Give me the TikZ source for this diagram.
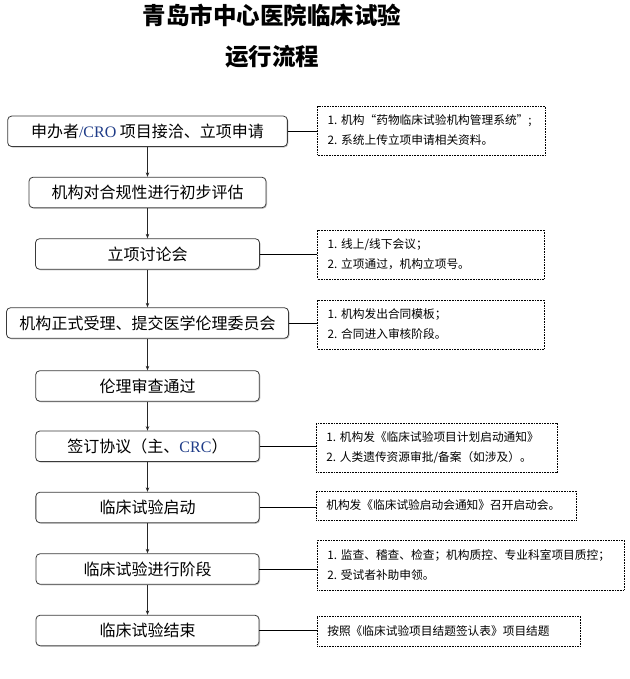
\documentclass[tikz,border=0pt]{standalone}
\usepackage{fontspec}
\setmainfont{Noto Sans CJK SC}
\newfontfamily\latinserif{Liberation Serif}
\usetikzlibrary{shadows,arrows.meta}
\definecolor{navy}{HTML}{1F3C88}
\definecolor{boxline}{HTML}{3A3A3A}
\begin{document}
\begin{tikzpicture}[x=1pt,y=-1pt,
  stepbox/.style={draw=boxline, line width=0.8pt, rounded corners=4pt, fill=white,
    drop shadow={shadow xshift=1pt, shadow yshift=-1pt, opacity=0.45, fill=gray},
    font=\fontsize{16}{18}\selectfont, inner sep=0pt, minimum height=30.5pt},
  notebox/.style={draw=black, line width=0.6pt, dash pattern=on 0.8pt off 0.8pt,
    align=left, anchor=west, inner xsep=10pt, inner ysep=0pt,
    font=\fontsize{11.7}{20}\selectfont},
  titletext/.style={font=\fontsize{23.5}{26}\selectfont\bfseries, inner sep=0pt},
  flowarrow/.style={draw=black!85, line width=0.7pt, -{Stealth[length=4.5pt,width=3.5pt]}},
  link/.style={draw=black, line width=0.8pt}
]
\useasboundingbox (0,0) rectangle (629,679);

% title
\node[titletext] (T1) at (272,15) {青岛市中心医院临床试验};
\node[titletext] (T2) at (272,57) {运行流程};

% main flow
\node[stepbox, minimum width=279.7pt] (L1) at (147.5,131.3) {申办者{\latinserif\color{navy}/CRO} 项目接洽、立项申请};
\node[stepbox, minimum width=237pt]   (L2) at (147.5,192.5) {机构对合规性进行初步评估};
\node[stepbox, minimum width=224pt]   (L3) at (147.5,254)   {立项讨论会};
\node[stepbox, minimum width=282pt]   (L4) at (147.5,323)   {机构正式受理、提交医学伦理委员会};
\node[stepbox, minimum width=223.6pt] (L5) at (147.5,386)   {伦理审查通过};
\node[stepbox, minimum width=223.6pt] (L6) at (147.5,446.3) {签订协议（主、{\latinserif\color{navy}CRC}）};
\node[stepbox, minimum width=223.3pt] (L7) at (147.5,507.5) {临床试验启动};
\node[stepbox, minimum width=223pt]   (L8) at (147.5,569)   {临床试验进行阶段};
\node[stepbox, minimum width=223pt]   (L9) at (147.5,630.5) {临床试验结束};

\foreach \a/\b in {L1/L2,L2/L3,L3/L4,L4/L5,L5/L6,L6/L7,L7/L8,L8/L9}
  \draw[flowarrow] (\a.south) -- (\b.north);

% notes
\node[notebox, text width=207.7pt, minimum height=49pt] (R1) at (317.3,130.5)
  {1.~机构“药物临床试验机构管理系统”;\\2.~系统上传立项申请相关资料。};
\node[notebox, text width=207pt, minimum height=49pt] (R2) at (317.3,254.5)
  {1.~线上/线下会议；\\2.~立项通过，机构立项号。};
\node[notebox, text width=207pt, minimum height=49pt] (R3) at (317.3,324.5)
  {1.~机构发出合同模板；\\2.~合同进入审核阶段。};
\node[notebox, text width=220.7pt, minimum height=49pt] (R4) at (316,447.8)
  {1.~机构发《临床试验项目计划启动通知》\\2.~人类遗传资源审批/备案（如涉及）。};
\node[notebox, text width=240pt, minimum height=29pt] (R5) at (316,505.5)
  {机构发《临床试验启动会通知》召开启动会。};
\node[notebox, text width=287pt, minimum height=50pt] (R6) at (317,565)
  {1.~监查、稽查、检查；机构质控、专业科室项目质控；\\2.~受试者补助申领。};
\node[notebox, text width=243pt, minimum height=30pt] (R7) at (317,631)
  {按照《临床试验项目结题签认表》项目结题};

% connectors
\draw[link] (L1.east) -- (L1.east -| R1.west);
\draw[link] (L3.east) -- (L3.east -| R2.west);
\draw[link] (L4.east) -- (L4.east -| R3.west);
\draw[link] (L6.east) -- (L6.east -| R4.west);
\draw[link] (L7.east) -- (L7.east -| R5.west);
\draw[link] (L8.east) -- (L8.east -| R6.west);
\draw[link] (L9.east) -- (L9.east -| R7.west);
\end{tikzpicture}
\end{document}
